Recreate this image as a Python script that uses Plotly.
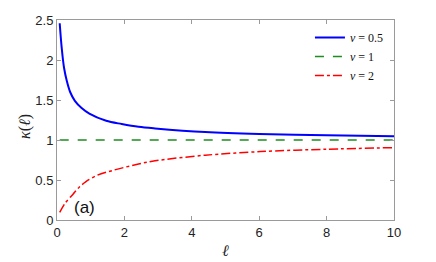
import plotly.graph_objects as go

ell_nu05 = [0.08, 0.14, 0.21, 0.29, 0.39, 0.53, 0.73, 0.96, 1.46, 1.92, 2.42, 2.91, 4.4, 6.0, 8, 10]
kappa_nu05 = [2.46, 2.15, 1.90, 1.74, 1.60, 1.49, 1.40, 1.33, 1.24, 1.20, 1.165, 1.145,
              1.10, 1.075, 1.058, 1.046]
ell_nu1 = [0.08, 10]
kappa_nu1 = [1.0, 1.0]
ell_nu2 = [0.08, 0.24, 0.47, 0.66, 0.86, 1.2, 1.7, 2.42, 2.91, 4.4, 6.03, 8, 10]
kappa_nu2 = [0.095, 0.21, 0.32, 0.41, 0.48, 0.56, 0.625, 0.70, 0.74, 0.81, 0.855, 0.885, 0.905]
names = ["<i>ν</i> = 0.5", "<i>ν</i> = 1", "<i>ν</i> = 2"]

fig = go.Figure()
fig.add_trace(go.Scatter(x=ell_nu05, y=kappa_nu05, mode="lines", name=names[0],
                         line=dict(color="#0000FF", width=2, shape="spline", smoothing=0.9)))
fig.add_trace(go.Scatter(x=ell_nu1, y=kappa_nu1, mode="lines", name=names[1],
                         line=dict(color="#1E8C1E", width=1.5, dash="dash")))
fig.add_trace(go.Scatter(x=ell_nu2, y=kappa_nu2, mode="lines", name=names[2],
                         line=dict(color="#FF0000", width=1.5, dash="dashdot", shape="spline", smoothing=0.9)))

axis_common = dict(showline=True, linecolor="#9a9a9a", linewidth=1, mirror="ticks",
                   ticks="inside", ticklen=4, tickcolor="#9a9a9a", showgrid=False,
                   zeroline=False, automargin=False,
                   tickfont=dict(family="Liberation Sans", size=13, color="#222"))

fig.update_xaxes(range=[0, 10], tickvals=[0, 2, 4, 6, 8, 10], **axis_common)
fig.update_yaxes(range=[0, 2.5], tickvals=[0, 0.5, 1, 1.5, 2, 2.5],
                 ticktext=["0", "0.5", "1", "1.5", "2", "2.5"], **axis_common)

# axis titles
fig.add_annotation(x=0.5, y=0, xref="paper", yref="paper", text="<i>ℓ</i>", showarrow=False,
                   yanchor="middle", yshift=-30,
                   font=dict(family="Liberation Serif", size=16, color="#222"))
fig.add_annotation(x=0, y=0.465, xref="paper", yref="paper", text="<i>κ</i>(<i>ℓ</i>)", showarrow=False,
                   xanchor="center", xshift=-32, textangle=-90,
                   font=dict(family="Liberation Serif", size=16, color="#222"))

fig.add_annotation(x=0.83, y=0.16, xref="x", yref="y", text="(a)", showarrow=False,
                   font=dict(family="Liberation Sans", size=17, color="#111"))

# page body has an 8px default margin, so the figure is sized/offset to compensate
fig.update_layout(
    width=428, height=254,
    margin=dict(l=49, r=42, t=12, b=42),
    paper_bgcolor="white", plot_bgcolor="white",
    legend=dict(x=0.985, y=0.985, xanchor="right", yanchor="top", bgcolor="rgba(0,0,0,0)",
                font=dict(family="Liberation Serif", size=12, color="#111"),
                itemwidth=30, tracegroupgap=0),
)

fig.write_html("out.html")
